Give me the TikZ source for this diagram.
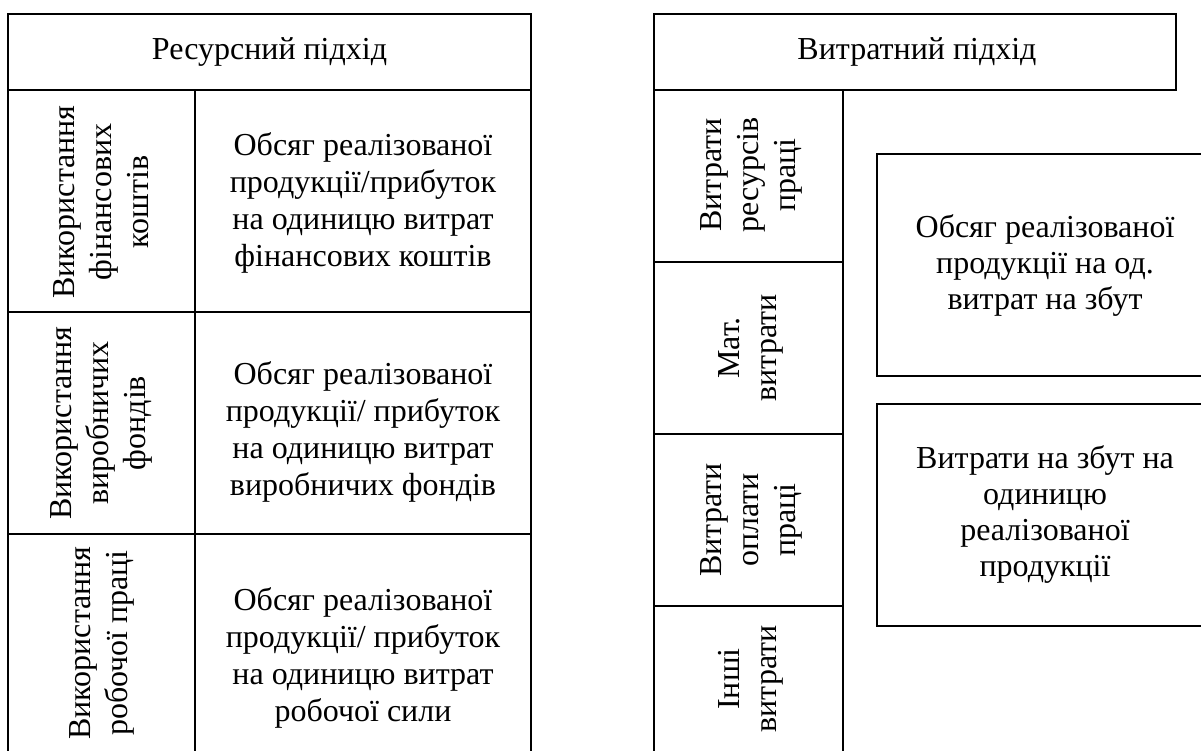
\documentclass[tikz,border=0pt]{standalone}
\usepackage{fontspec}
\setmainfont{Liberation Serif}
\begin{document}
\begin{tikzpicture}[x=1pt,y=-1pt,
  cell/.style={draw, line width=2.2pt, inner sep=0pt},
  txt/.style={font=\fontsize{32}{37}\selectfont, align=center, inner sep=0pt},
  rtxt/.style={font=\fontsize{32}{36}\selectfont, align=center, inner sep=0pt},
  vtxt/.style={txt, rotate=90}]
\useasboundingbox (0,0) rectangle (1201,751);
\clip (0,0) rectangle (1201,751);
% left panel
\node[cell, minimum width=523, minimum height=76] (lh) at (269.5,52) {};
\node[txt] (lht) at (lh.center) {Ресурсний підхід};
\node[cell, minimum width=187, minimum height=222] (l1a) at (101.5,201) {};
\node[cell, minimum width=336, minimum height=222] (l1b) at (363,201) {};
\node[cell, minimum width=187, minimum height=222] (l2a) at (101.5,423) {};
\node[cell, minimum width=336, minimum height=222] (l2b) at (363,423) {};
\node[cell, minimum width=187, minimum height=230] (l3a) at (101.5,649) {};
\node[cell, minimum width=336, minimum height=230] (l3b) at (363,649) {};
\node[vtxt] (l1at) at (101.5,202) {Використання\\фінансових\\коштів};
\node[vtxt] (l2at) at (101.5,423) {Використання\\виробничих\\фондів};
\node[vtxt] (l3at) at (101.5,643) {Використання\\робочої праці};
\node[txt] (l1bt) at (363,203) {Обсяг реалізованої\\продукції/прибуток\\на одиницю витрат\\фінансових коштів};
\node[txt] (l2bt) at (363,432) {Обсяг реалізованої\\продукції/ прибуток\\на одиницю витрат\\виробничих фондів};
\node[txt] (l3bt) at (363,658) {Обсяг реалізованої\\продукції/ прибуток\\на одиницю витрат\\робочої сили};
% right panel
\node[cell, minimum width=522, minimum height=76] (rh) at (915,52) {};
\node[rtxt] (rht) at (917,52) {Витратний підхід};
\node[cell, minimum width=189, minimum height=172] (r1) at (748.5,176) {};
\node[cell, minimum width=189, minimum height=172] (r2) at (748.5,348) {};
\node[cell, minimum width=189, minimum height=172] (r3) at (748.5,520) {};
\node[cell, minimum width=189, minimum height=152] (r4) at (748.5,682) {};
\node[vtxt] (r1t) at (751,175) {Витрати\\ресурсів\\праці};
\node[vtxt] (r2t) at (751,348) {Мат.\\витрати};
\node[vtxt] (r3t) at (751,520) {Витрати\\оплати\\праці};
\node[vtxt] (r4t) at (751,679) {Інші\\витрати};
\node[cell, minimum width=340, minimum height=222] (b1) at (1047,265) {};
\node[cell, minimum width=340, minimum height=222] (b2) at (1047,515) {};
\node[rtxt] (b1t) at (1045,265) {Обсяг реалізованої\\продукції на од.\\витрат на збут};
\node[rtxt] (b2t) at (1045,514) {Витрати на збут на\\одиницю\\реалізованої\\продукції};
\end{tikzpicture}
\end{document}
